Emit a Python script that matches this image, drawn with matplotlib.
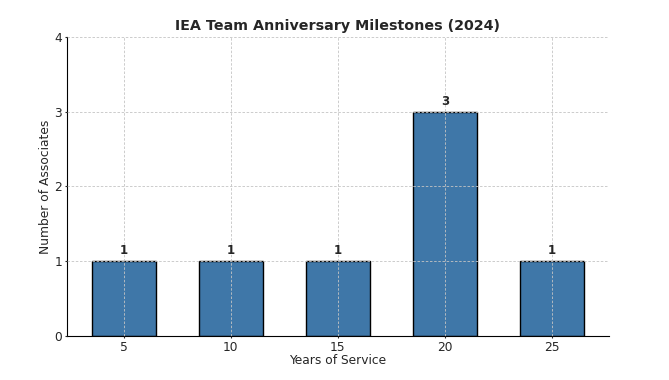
import matplotlib
matplotlib.use("Agg")
import matplotlib.pyplot as plt

years = [5, 10, 15, 20, 25]
counts = [1, 1, 1, 3, 1]
yticks = [0, 1, 2, 3, 4]

txt = "#262626"
fig = plt.figure(figsize=(6.69, 3.8), dpi=100)
ax = fig.add_axes([0.100, 0.116, 0.810, 0.787])
bars = ax.bar(years, counts, width=3, color="#3f77a8", edgecolor="black", linewidth=1.0, zorder=2)
for x, c in zip(years, counts):
    ax.text(x, c + 0.05, str(c), ha="center", va="bottom", fontsize=8.5, fontweight="bold", color=txt)
ax.set_ylim(0, 4)
ax.set_yticks(yticks)
ax.set_xticks(years)
ax.grid(True, linestyle=(0, (3, 2)), color="#c4c4c4", linewidth=0.6, zorder=3)
ax.set_axisbelow(False)
ax.spines["top"].set_visible(False)
ax.spines["right"].set_visible(False)
ax.tick_params(labelsize=8.8, length=1.5, pad=1.8, colors=txt)
ax.set_xlabel("Years of Service", fontsize=8.8, color=txt, labelpad=0.3)
ax.set_ylabel("Number of Associates", fontsize=8.8, color=txt, labelpad=1.5)
ax.set_title("IEA Team Anniversary Milestones (2024)", fontsize=10.3, fontweight="bold", color=txt, pad=5)
fig.savefig("out.png", dpi=100)
